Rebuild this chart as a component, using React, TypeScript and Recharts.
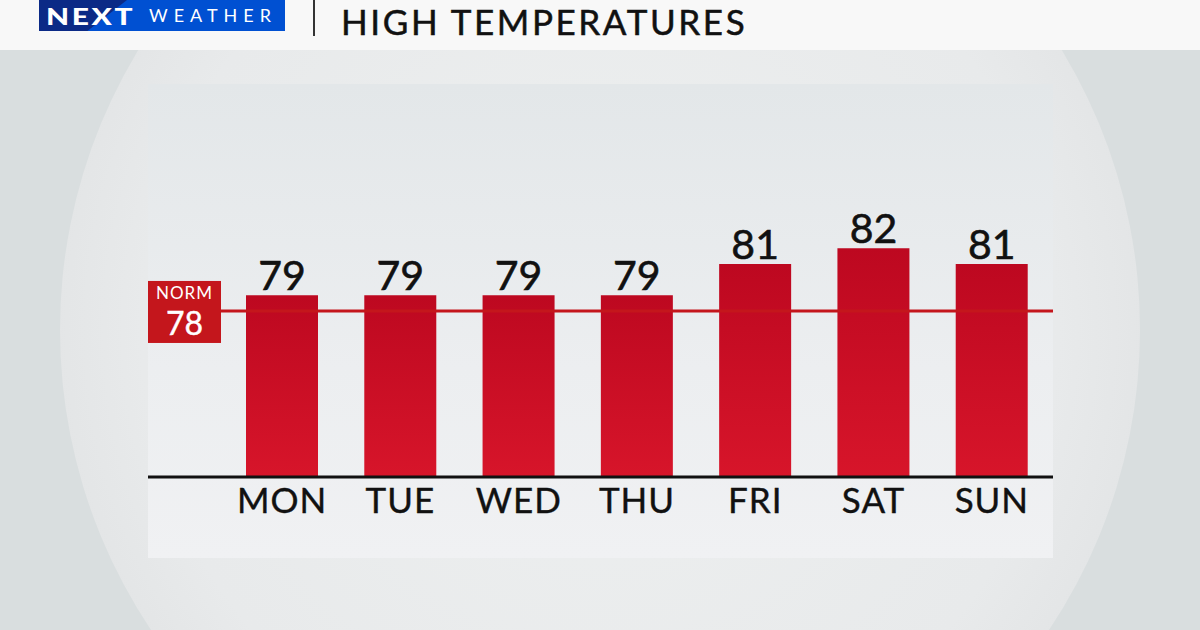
import React from "react";
import { BarChart, Bar, XAxis, YAxis, ReferenceLine, LabelList } from "recharts";

const days = ["MON", "TUE", "WED", "THU", "FRI", "SAT", "SUN"];
const highs = [79, 79, 79, 79, 81, 82, 81];
const normal = 78;
const title = "HIGH TEMPERATURES";

const data = days.map((d, i) => ({ day: d, high: highs[i] }));

const FONT = "Lato, 'Noto Sans', sans-serif";

const NormLabel = (props: any) => {
  const vb = props.viewBox || {};
  const x = vb.x;
  const y = vb.y;
  return (
    <g>
      <rect x={x} y={y - 30} width={73} height={62} fill="#c4161c" />
      <text x={x + 36.5} y={y - 12} textAnchor="middle" fill="#fff" fontSize={17} letterSpacing={1} fontFamily={FONT}>
        NORM
      </text>
      <text x={x + 36.5} y={y + 24} textAnchor="middle" fill="#fff" fontSize={32} fontFamily={FONT} stroke="#fff" strokeWidth={0.4}>
        {normal}
      </text>
    </g>
  );
};

export default function App() {
  return (
    <div style={{ position: "fixed", left: 0, top: 0, width: 1200, height: 630, overflow: "hidden", background: "#d9dedf", fontFamily: FONT }}>
      {/* circle */}
      <div
        style={{
          position: "absolute",
          left: 600 - 540,
          top: 330 - 540,
          width: 1080,
          height: 1080,
          borderRadius: "50%",
          background:
            "radial-gradient(circle at 50% 50%, #eef0f0 0%, #e8eaeb 60%, #dfe1e2 82%, #cdcfd0 96%, #d8dadb 98.3%, #c9cbcc 100%)",
        }}
      />
      {/* header */}
      <div style={{ position: "absolute", left: 0, top: 0, width: 1200, height: 50, background: "#f8f8f8" }} />
      <div style={{ position: "absolute", left: 39, top: 0, width: 246, height: 31, background: "#0050d2", overflow: "hidden" }}>
        <div style={{ position: "absolute", left: 0, top: 0, width: 88, height: 31, background: "#0b2a86", clipPath: "polygon(0 0, 100% 0, 55% 100%, 0 100%)" }} />
        <div style={{ position: "absolute", left: 7, top: 3, fontSize: 23, fontWeight: 900, color: "#fff", letterSpacing: 2, lineHeight: "26px", transform: "scaleX(1.3)", transformOrigin: "0 0" }}>NEXT</div>
        <div style={{ position: "absolute", left: 110, top: 5, fontSize: 18, color: "#fff", letterSpacing: 6, lineHeight: "20px" }}>WEATHER</div>
      </div>
      <div style={{ position: "absolute", left: 313, top: 0, width: 2, height: 36, background: "#333" }} />
      <div style={{ position: "absolute", left: 341, top: 0, fontSize: 35, color: "#111", lineHeight: "normal", letterSpacing: 2.6, WebkitTextStroke: "0.5px #111" }}>{title}</div>
      {/* panel */}
      <div style={{ position: "absolute", left: 148, top: 84, width: 905, height: 474, background: "linear-gradient(180deg, #e3e7e9 0%, #eceef0 60%, #f0f1f3 100%)" }} />
      {/* chart */}
      <div style={{ position: "absolute", left: 0, top: 0 }}>
        <BarChart width={1200} height={630} data={data} margin={{ top: 123, right: 147, bottom: 93, left: 148 }} barCategoryGap={0}>
          <defs>
            <linearGradient id="barGrad" x1="0" y1="0" x2="0" y2="1">
              <stop offset="0%" stopColor="#bd0820" />
              <stop offset="100%" stopColor="#d7152a" />
            </linearGradient>
          </defs>
          <YAxis hide width={0} domain={[67.4, 90]} />
          <ReferenceLine y={normal} stroke="#c4161c" strokeWidth={3} label={<NormLabel />} />
          <XAxis
            dataKey="day"
            height={60}
            padding={{ left: 75, right: 2 }}
            axisLine={{ stroke: "#111", strokeWidth: 3 }}
            tickLine={false}
            tickSize={0}
            tickMargin={11}
            tick={{ fill: "#111", fontSize: 35, fontFamily: FONT, stroke: "#111", strokeWidth: 0.4, letterSpacing: 1 }}
          />
          <Bar dataKey="high" fill="url(#barGrad)" barSize={72} isAnimationActive={false}>
            <LabelList dataKey="high" position="top" offset={5} fill="#111" stroke="#111" strokeWidth={0.6} fontSize={41} fontFamily={FONT} />
          </Bar>
        </BarChart>
      </div>
    </div>
  );
}
